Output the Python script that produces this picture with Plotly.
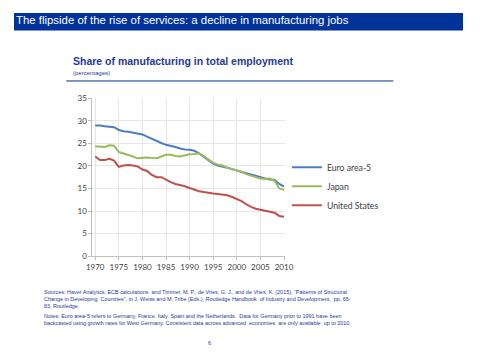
import plotly.graph_objects as go

years = list(range(1970, 2011))
euro_area5 = [29.0, 29.0, 28.8, 28.7, 28.6, 28.0, 27.7, 27.6, 27.4, 27.2,
              27.0, 26.5, 26.0, 25.5, 25.1, 24.7, 24.5, 24.2, 23.9, 23.65,
              23.6, 23.4, 22.8, 22.0, 21.2, 20.5, 20.1, 19.9, 19.6, 19.3,
              19.05, 18.8, 18.4, 18.1, 17.8, 17.4, 17.2, 17.0, 16.9, 16.0, 15.4]
japan = [24.4, 24.3, 24.2, 24.6, 24.5, 23.1, 22.8, 22.5, 22.1, 21.7,
         21.85, 21.9, 21.8, 21.7, 22.1, 22.5, 22.5, 22.2, 22.1, 22.4,
         22.6, 22.65, 22.8, 22.2, 21.4, 20.7, 20.3, 20.1, 19.6, 19.3,
         19.0, 18.7, 18.2, 17.9, 17.5, 17.2, 17.1, 17.2, 16.7, 15.0, 14.7]
united_states = [22.1, 21.3, 21.3, 21.6, 21.2, 19.8, 20.1, 20.2, 20.1, 19.9,
                 19.2, 18.9, 18.0, 17.5, 17.5, 16.9, 16.4, 16.0, 15.8, 15.5,
                 15.1, 14.7, 14.4, 14.2, 14.0, 13.9, 13.8, 13.6, 13.5, 13.1,
                 12.7, 12.2, 11.5, 10.9, 10.5, 10.3, 10.1, 9.9, 9.6, 8.9, 8.7]
series_names = ["Euro area-5", "Japan", "United States"]
series_colors = ["#4A7CC4", "#9BBB59", "#C0504D"]
x_ticks = [1970, 1975, 1980, 1985, 1990, 1995, 2000, 2005, 2010]
y_ticks = [0, 5, 10, 15, 20, 25, 30, 35]

fig = go.Figure()
for name, vals, col in zip(series_names, [euro_area5, japan, united_states], series_colors):
    fig.add_trace(go.Scatter(x=years, y=vals, mode="lines", name=name,
                             line=dict(color=col, width=2)))

# page is shown with an 8px body margin, so the figure is 464x344 and
# positions below are reference-pixel minus 8
W, H = 464, 344
OFF = 8
def px(p):
    return (p - OFF) / W
def py(p):
    return 1 - (p - OFF) / H

tick_font = dict(family="Lato, Open Sans, sans-serif", size=8, color="#404040")

fig.update_layout(
    width=W, height=H,
    margin=dict(l=0, r=0, t=0, b=0),
    paper_bgcolor="white", plot_bgcolor="white",
    font=dict(family="Lato, Open Sans, sans-serif", color="#595959", size=9),
    xaxis=dict(domain=[px(89), px(288)], range=[1969.4, 2010.2],
               tickvals=x_ticks, ticktext=[str(t) for t in x_ticks],
               showgrid=True, gridcolor="#E6E6E6", gridwidth=1,
               showline=True, linecolor="#BFBFBF", linewidth=1,
               ticks="outside", ticklen=3, tickcolor="#BFBFBF",
               zeroline=False, tickfont=tick_font),
    yaxis=dict(domain=[py(258.3), py(96)], range=[0, 35],
               tickvals=y_ticks, showgrid=True, gridcolor="#E6E6E6", gridwidth=1,
               showline=True, linecolor="#BFBFBF", linewidth=1,
               ticks="outside", ticklen=3, tickcolor="#BFBFBF",
               zeroline=False, tickfont=tick_font),
    legend=dict(x=px(290), y=py(152), xanchor="left", yanchor="top",
                font=dict(family="Lato, Open Sans, sans-serif", size=8.7, color="#404040"),
                itemwidth=30, tracegroupgap=0, bgcolor="rgba(0,0,0,0)"),
    showlegend=True,
)

# header banner
fig.add_shape(type="rect", xref="paper", yref="paper", x0=0, x1=1, y0=py(26), y1=1,
              fillcolor="#003399", line=dict(width=0), layer="below")
fig.add_annotation(text="The flipside of the rise of services: a decline in manufacturing jobs",
                   xref="paper", yref="paper", x=px(8), y=py(15), xanchor="left", yanchor="middle",
                   showarrow=False, font=dict(family="Liberation Sans, Arial", size=11.4, color="white"))
# chart title
fig.add_annotation(text="<b>Share of manufacturing in total employment</b>",
                   xref="paper", yref="paper", x=px(67), y=py(57), xanchor="left", yanchor="middle",
                   showarrow=False, font=dict(family="Liberation Sans, Arial", size=10.5, color="#1F3A93"))
fig.add_annotation(text="(percentages)",
                   xref="paper", yref="paper", x=px(67), y=py(70), xanchor="left", yanchor="middle",
                   showarrow=False, font=dict(family="Liberation Sans, Arial", size=6, color="#1F3A93"))
fig.add_shape(type="line", xref="paper", yref="paper", x0=px(62), x1=px(400), y0=py(78), y1=py(78),
              line=dict(color="#003399", width=1))

notes = [
    "Sources: Haver Analytics, ECB calculations  and Timmer, M. P., de Vries, G. J., and de Vries, K. (2015), \u201cPatterns of Structural",
    "Change in Developing  Countries\u201d, in J. Weiss and M. Tribe (Eds.), Routledge Handbook  of Industry and Development,  pp. 65-",
    "83, Routledge.",
    "Notes: Euro area-5 refers to Germany, France, Italy, Spain and the Netherlands.  Data for Germany prior to 1991 have been",
    "backcasted using growth rates for West Germany. Consistent data across advanced  economies  are only available  up to 2010.",
]
note_y = [295, 302.5, 310, 320, 327.5]
for t, yy in zip(notes, note_y):
    fig.add_annotation(text=t, xref="paper", yref="paper", x=px(37), y=py(yy),
                       xanchor="left", yanchor="middle", showarrow=False,
                       font=dict(family="Liberation Sans, Arial", size=5.45, color="#1F3A93"))
fig.add_annotation(text="6", xref="paper", yref="paper", x=px(210), y=py(348),
                   xanchor="center", yanchor="middle", showarrow=False,
                   font=dict(family="Liberation Sans, Arial", size=5.5, color="#1F3A93"))

fig.write_html("out.html", config={"displayModeBar": False})
